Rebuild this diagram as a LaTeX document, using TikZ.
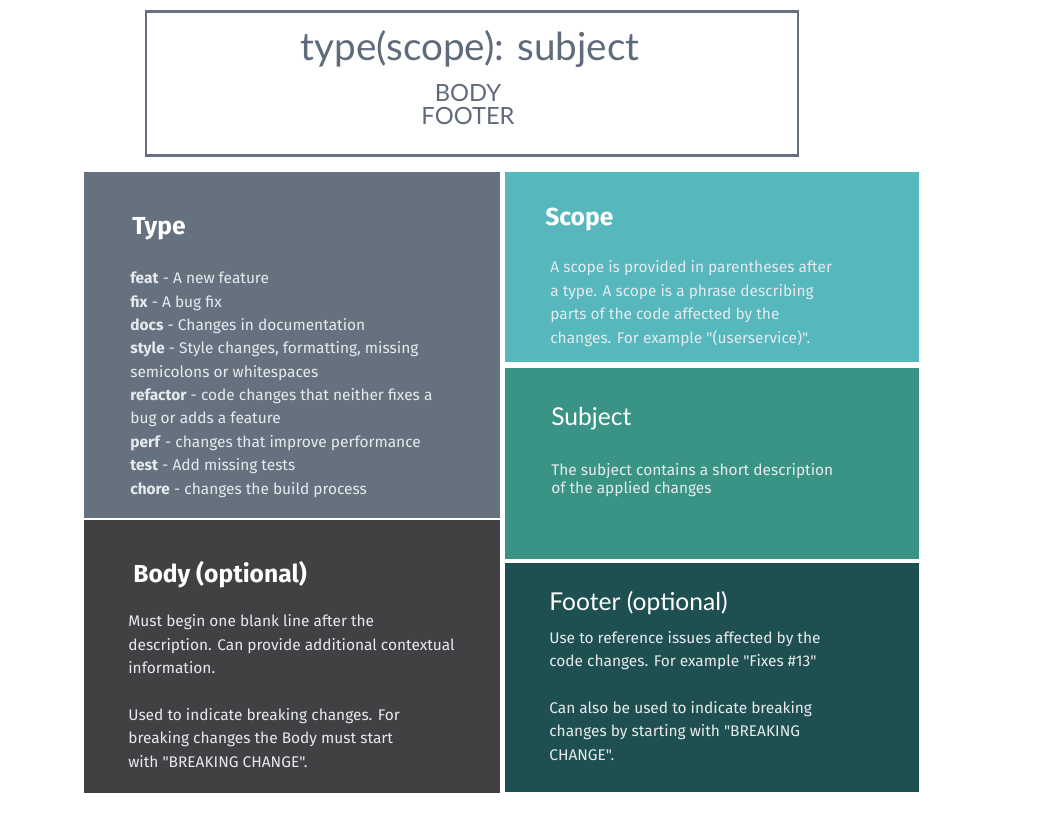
\documentclass[tikz,border=0pt]{standalone}
\usepackage{fontspec}
\setmainfont{Fira Sans}[Ligatures=TeXOff]
\newfontfamily\latofont{Lato}
\usetikzlibrary{positioning}
\definecolor{slate}{HTML}{66717F}
\definecolor{charcoal}{HTML}{414143}
\definecolor{aqua}{HTML}{56B7BC}
\definecolor{seagreen}{HTML}{3A9485}
\definecolor{deepteal}{HTML}{1F5051}
\definecolor{titlegray}{HTML}{5F6B7A}
\definecolor{paneltxt}{HTML}{E6EAEE}

\begin{document}
\begin{tikzpicture}[x=0.02cm, y=-0.02cm,
  paneltext/.style={anchor=base west, inner sep=0, align=left, text=paneltxt, font=\fontsize{8.8}{13.3}\selectfont},
  panelhead/.style={anchor=base west, inner sep=0, text=white, font=\fontsize{14}{16}\selectfont\bfseries},
  lighthead/.style={anchor=base west, inner sep=0, text=white, font=\latofont\fontsize{14}{16}\selectfont}]
\useasboundingbox[fill=white] (0,0) rectangle (1039,833);

% header
\draw[slate, line width=1.7pt] (146,11) rectangle (798,155);
\node[inner sep=0, anchor=base, text=titlegray, font=\latofont\fontsize{22}{25}\selectfont] (format) at (470,60) {type(scope): subject};
\node[inner sep=0, anchor=base, text=titlegray, font=\latofont\fontsize{13.5}{13}\selectfont, align=center] (parts) at (468,124) {BODY\\FOOTER};

% panels
\fill[slate] (84,172) rectangle (500,518);
\fill[charcoal] (84,520) rectangle (500,793);
\fill[aqua] (505,172) rectangle (919,362);
\fill[seagreen] (505,368) rectangle (919,559);
\fill[deepteal] (505,563) rectangle (919,792);

% type (base = last line)
\node[panelhead] (typehead) at (132,234) {Type};
\node[paneltext] (typelist) at (130,494) {\textbf{feat} - A new feature\\
  \textbf{fix} - A bug fix\\
  \textbf{docs} - Changes in documentation\\
  \textbf{style} - Style changes, formatting, missing\\
  semicolons or whitespaces\\
  \textbf{refactor} - code changes that neither fixes a\\
  bug or adds a feature\\
  \textbf{perf} - changes that improve performance\\
  \textbf{test} - Add missing tests\\
  \textbf{chore} - changes the build process};

% scope
\node[panelhead] (scopehead) at (545,225) {Scope};
\node[paneltext] (scopetext) at (550,343) {A scope is provided in parentheses after\\
  a type. A scope is a phrase describing\\
  parts of the code affected by the\\
  changes. For example "(userservice)".};

% subject
\node[lighthead] (subjecthead) at (551,425) {Subject};
\node[paneltext, font=\fontsize{8.8}{10.2}\selectfont] (subjecttext) at (551,493) {The subject contains a short description\\
  of the applied changes};

% body
\node[panelhead] (bodyhead) at (133,582) {Body (optional)};
\node[paneltext] (bodytext) at (128,767) {Must begin one blank line after the\\
  description. Can provide additional contextual\\
  information.\\[13.3pt]
  Used to indicate breaking changes. For\\
  breaking changes the Body must start\\
  with "BREAKING CHANGE".};

% footer
\node[lighthead] (footerhead) at (549,610) {Footer (optional)};
\node[paneltext] (footertext) at (549,760) {Use to reference issues affected by the\\
  code changes. For example "Fixes \#13"\\[13.3pt]
  Can also be used to indicate breaking\\
  changes by starting with "BREAKING\\
  CHANGE".};
\end{tikzpicture}
\end{document}
